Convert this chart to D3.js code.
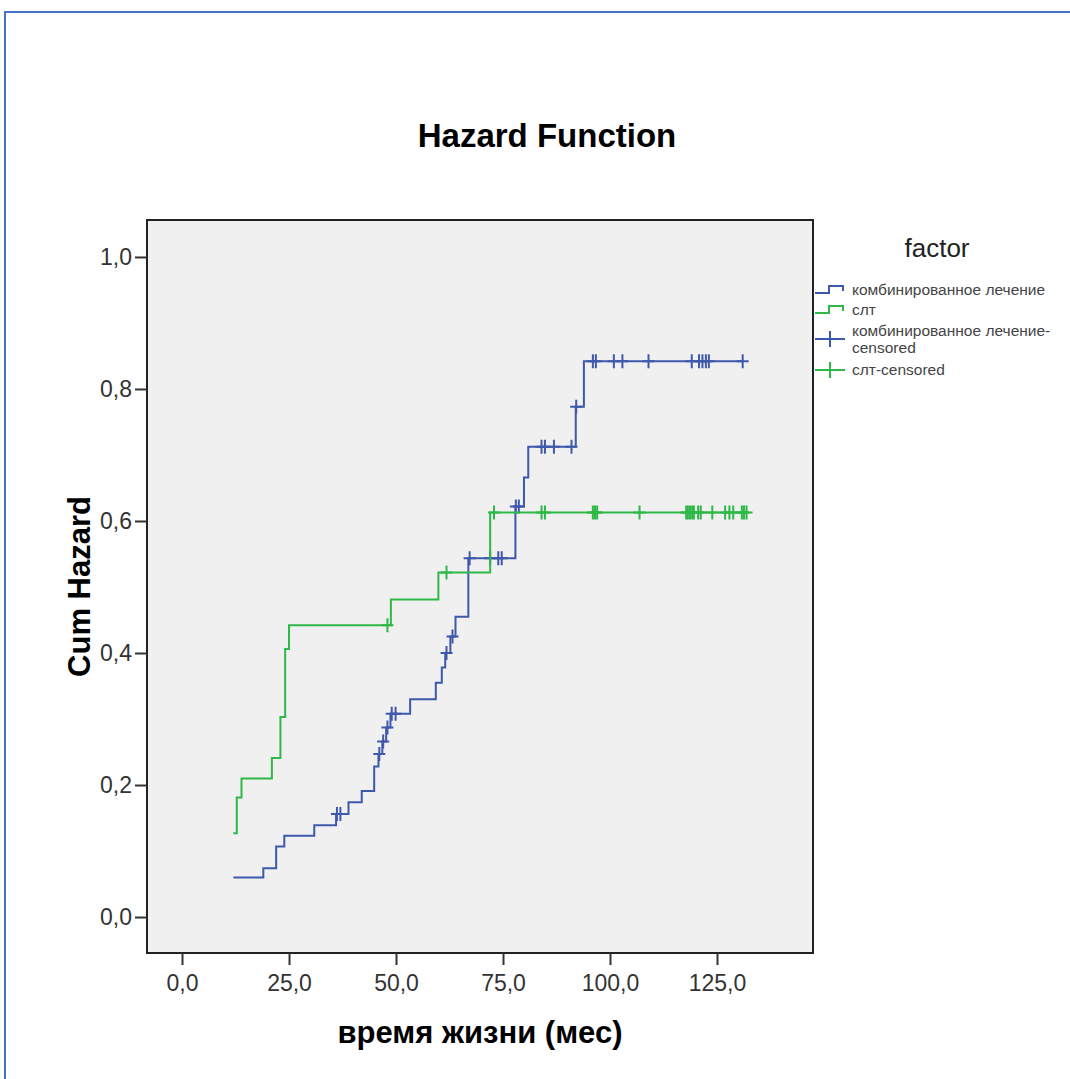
<!DOCTYPE html>
<html>
<head>
<meta charset="utf-8">
<script src="https://cdn.jsdelivr.net/npm/d3@7"></script>
<style>
  body { margin: 0; background: #fff; }
  text { font-family: "Liberation Sans", Arial, sans-serif; }
</style>
</head>
<body>
<div class="vis-hazard"></div>
<script>
// комбинированное лечение: event times / cumulative hazard after each step
const comboTimes = [12.0, 19.0, 22.0, 23.9, 30.9, 36.0, 38.9, 42.0, 44.9, 45.9, 46.8, 47.7, 48.7, 53.3, 59.3, 60.7, 61.5, 62.7, 63.9, 66.9, 77.9, 79.9, 80.9, 92.0, 93.9];
const comboHaz   = [0.060, 0.074, 0.107, 0.123, 0.139, 0.156, 0.174, 0.191, 0.228, 0.247, 0.266, 0.287, 0.308, 0.330, 0.355, 0.378, 0.400, 0.425, 0.455, 0.5435, 0.622, 0.666, 0.7126, 0.773, 0.842];
const comboCensored = [36.2, 37.0, 46.1, 47.0, 48.0, 49.0, 49.9, 61.8, 63.2, 67.2, 72.0, 73.9, 74.7, 78.0, 78.7, 84.0, 84.8, 86.9, 91.0, 92.1, 96.0, 96.7, 100.9, 102.9, 109.0, 119.1, 120.8, 121.6, 122.4, 123.1, 131.0];

// слт
const sltTimes = [12.0, 12.8, 13.9, 21.0, 23.0, 24.1, 25.0, 48.8, 59.9, 72.0];
const sltHaz   = [0.127, 0.181, 0.210, 0.241, 0.303, 0.406, 0.442, 0.481, 0.522, 0.613];
const sltCensored = [48.0, 61.8, 72.9, 84.0, 84.8, 96.0, 96.5, 97.0, 106.9, 117.8, 118.2, 118.7, 119.2, 119.6, 120.6, 121.2, 123.9, 126.9, 127.9, 128.8, 130.8, 131.3, 131.9];

const xTicks = [0, 25, 50, 75, 100, 125];
const yTicks = [0, 0.2, 0.4, 0.6, 0.8, 1.0];
const legendLabels = ["комбинированное лечение", "слт", "комбинированное лечение-\ncensored", "слт-censored"];

const blue = "#3e58ac", green = "#2eb848";

const W = 1070, H = 1079;
const plot = { left: 147, top: 220, right: 813, bottom: 953 };

const svg = d3.select(".vis-hazard").append("svg")
    .attr("width", W).attr("height", H);

// outer frame (blue)
svg.append("path")
    .attr("d", `M5,${H}V12H${W}`)
    .attr("fill", "none").attr("stroke", "#4472c4").attr("stroke-width", 2);

let x = d3.scaleLinear().domain([-8.18, 147.43]).range([plot.left, plot.right]);
let y = d3.scaleLinear().domain([-0.0545, 1.056]).range([plot.bottom, plot.top]);
const fmt = d => d3.format(".1f")(d).replace(".", ",");

svg.append("rect")
    .attr("x", plot.left).attr("y", plot.top)
    .attr("width", plot.right - plot.left).attr("height", plot.bottom - plot.top)
    .attr("fill", "#f0f0f0").attr("stroke", "#222").attr("stroke-width", 2);

svg.append("g")
    .attr("transform", `translate(${plot.left},0)`)
    .call(d3.axisLeft(y).tickValues(yTicks).tickSize(12).tickPadding(3).tickFormat(fmt))
    .call(g => g.select(".domain").remove())
    .call(g => g.selectAll("line").attr("stroke", "#333").attr("stroke-width", 2))
    .call(g => g.selectAll("text").attr("font-size", 23).attr("fill", "#333")
        .attr("font-family", "Liberation Sans, Arial, sans-serif"));

svg.append("g")
    .attr("transform", `translate(0,${plot.bottom})`)
    .call(d3.axisBottom(x).tickValues(xTicks).tickSize(12).tickPadding(10).tickFormat(fmt))
    .call(g => g.select(".domain").remove())
    .call(g => g.selectAll("line").attr("stroke", "#333").attr("stroke-width", 2))
    .call(g => g.selectAll("text").attr("font-size", 23).attr("fill", "#333")
        .attr("font-family", "Liberation Sans, Arial, sans-serif"));

// titles
svg.append("text").attr("x", 547).attr("y", 147)
    .attr("text-anchor", "middle").attr("font-size", 33).attr("font-weight", "bold")
    .text("Hazard Function");
svg.append("text").attr("x", (plot.left + plot.right) / 2).attr("y", 1043)
    .attr("text-anchor", "middle").attr("font-size", 31).attr("font-weight", "bold")
    .text("время жизни (мес)");
svg.append("text")
    .attr("transform", `translate(90,${(plot.top + plot.bottom) / 2}) rotate(-90)`)
    .attr("text-anchor", "middle").attr("font-size", 31).attr("font-weight", "bold")
    .text("Cum Hazard");

// curves
const series = [
    { times: comboTimes, haz: comboHaz, cens: comboCensored, color: blue },
    { times: sltTimes, haz: sltHaz, cens: sltCensored, color: green }
];
const line = d3.line().x(d => x(d[0])).y(d => y(d[1])).curve(d3.curveStepAfter);
const levelAt = (s, t) => s.haz[Math.max(0, d3.bisectRight(s.times, t) - 1)];

series.forEach(s => {
    const pts = s.times.map((t, i) => [t, s.haz[i]]);
    const tEnd = Math.max(d3.max(s.times), d3.max(s.cens));
    pts.push([tEnd, s.haz[s.haz.length - 1]]);
    svg.append("path").datum(pts)
        .attr("d", line)
        .attr("fill", "none").attr("stroke", s.color).attr("stroke-width", 2);

    svg.append("g").selectAll("path")
        .data(s.cens)
        .join("path")
        .attr("d", t => {
            const cx = x(t), cy = y(levelAt(s, t));
            return `M${cx - 6},${cy}H${cx + 6}M${cx},${cy - 7}V${cy + 7}`;
        })
        .attr("fill", "none").attr("stroke", s.color).attr("stroke-width", 2);
});

// legend
const lg = svg.append("g");
lg.append("text").attr("x", 937).attr("y", 257).attr("text-anchor", "middle")
    .attr("font-size", 26).attr("fill", "#222").text("factor");

const legendRows = [
    { y: 290, kind: "step", color: blue, label: legendLabels[0] },
    { y: 310, kind: "step", color: green, label: legendLabels[1] },
    { y: 331, kind: "cens", color: blue, label: legendLabels[2] },
    { y: 370, kind: "cens", color: green, label: legendLabels[3] }
];
legendRows.forEach(r => {
    if (r.kind === "step") {
        lg.append("path").attr("d", `M815,${r.y + 3}H829V${r.y - 4}H843V${r.y + 1}`)
            .attr("fill", "none").attr("stroke", r.color).attr("stroke-width", 2);
    } else {
        const cy = r.label.includes("\n") ? r.y + 8 : r.y;
        lg.append("path").attr("d", `M815,${cy}H845M830,${cy - 8}V${cy + 8}`)
            .attr("fill", "none").attr("stroke", r.color).attr("stroke-width", 2);
    }
    const t = lg.append("text").attr("x", 852).attr("y", r.y)
        .attr("font-size", 15.5).attr("fill", "#444");
    r.label.split("\n").forEach((s, i) => {
        t.append("tspan").attr("x", 852).attr("dy", i ? "1.05em" : "0.35em").text(s);
    });
});
</script>
</body>
</html>
